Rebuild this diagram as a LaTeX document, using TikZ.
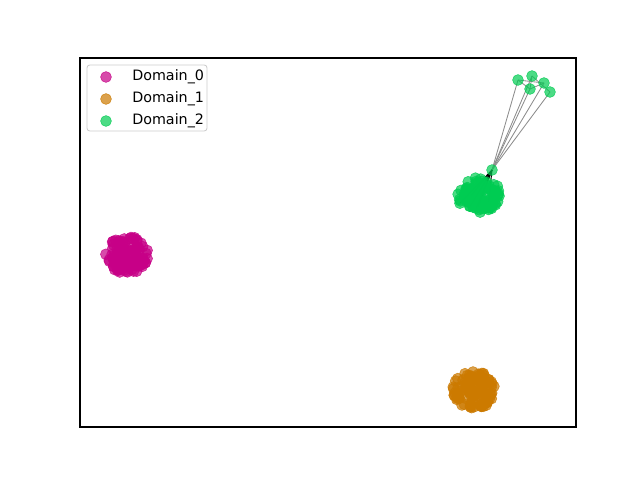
\documentclass[tikz,border=0pt]{standalone}
\usepackage{fontspec}
\setmainfont{DejaVu Sans}
\definecolor{dzero}{RGB}{199,0,135}
\definecolor{done}{RGB}{204,122,0}
\definecolor{dtwo}{RGB}{0,204,82}
\pgfdeclarelayer{bg}
\pgfsetlayers{bg,main}
\tikzset{
  pt/.style={circle,inner sep=0pt,minimum size=7.8pt,fill=#1,draw=#1,line width=0.4pt,fill opacity=0.7,draw opacity=0.8},
  edge/.style={draw=black!45,line width=0.6pt},
  lbl/.style={anchor=west,font=\fontsize{10.3}{12}\selectfont,inner sep=0pt}
}
\begin{document}
\begin{tikzpicture}[x=0.72pt,y=-0.72pt]
\useasboundingbox (0,0) rectangle (640,480);
\begin{pgfonlayer}{bg}
\fill[white] (0,0) rectangle (640,480);
\end{pgfonlayer}
% clusters
\pgfmathsetseed{7}
\foreach \cx/\cy/\col/\nm in {127/255/dzero/a,474/390/done/b,479/195/dtwo/c}{
  \foreach \i in {1,...,100}{
    \pgfmathsetmacro{\ang}{rnd*360}
    \pgfmathsetmacro{\rr}{sqrt(rnd)}
    \node[pt=\col] (\nm\i) at ({\cx+21.5*\rr*cos(\ang)},{\cy+18.5*\rr*sin(\ang)}) {};
  }
}
% hub and outliers
\node[pt=dtwo] (h) at (492,170) {};
\node[pt=dtwo] (o1) at (518,80) {};
\node[pt=dtwo] (o2) at (532,76) {};
\node[pt=dtwo] (o3) at (544,83) {};
\node[pt=dtwo] (o4) at (530,89) {};
\node[pt=dtwo] (o5) at (550,92) {};
\begin{pgfonlayer}{bg}
\foreach \o in {o1,o2,o3,o4,o5}{\draw[edge] (h.center) -- (\o.center);}
\draw[edge] (o1.center) -- (o3.center);
\draw[edge] (o2.center) -- (o5.center);
\draw[edge] (o4.center) -- (o3.center);
\draw[edge] (o1.center) -- (o4.center);
\draw[edge] (o2.center) -- (o4.center);
\foreach \k in {1,5,9,13,17,21,25}{\draw[black,line width=0.7pt] (h.center) -- (c\k.center);}
\end{pgfonlayer}
% axes
\draw[black,line width=0.8pt] (80,58) rectangle (576,427);
% legend
\draw[draw=black!20,fill=white,fill opacity=0.8,rounded corners=2pt,line width=0.6pt] (87,65) rectangle (207,131);
\node[pt=dzero] (l0) at (106,77) {};
\node[pt=done] (l1) at (106,99) {};
\node[pt=dtwo] (l2) at (106,121) {};
\node[lbl] (t0) at (132,77) {Domain\_0};
\node[lbl] (t1) at (132,99) {Domain\_1};
\node[lbl] (t2) at (132,121) {Domain\_2};
\end{tikzpicture}
\end{document}
